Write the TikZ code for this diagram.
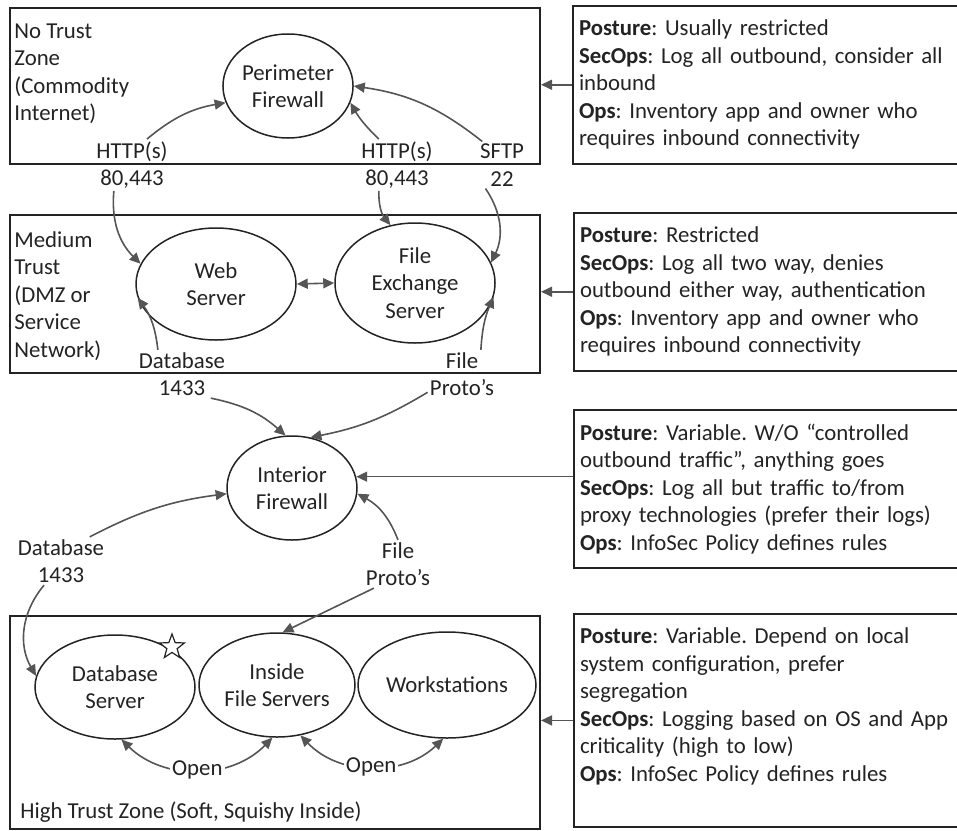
\documentclass[tikz,border=0pt]{standalone}
\usepackage{fontspec}
\setmainfont{Carlito}
\usetikzlibrary{shapes.geometric,arrows.meta}
\definecolor{inkgray}{RGB}{35,35,35}
\definecolor{arrgray}{RGB}{85,85,85}
\frenchspacing

\begin{document}
\begin{tikzpicture}[x=0.5pt,y=-0.5pt,
    every node/.style={font=\fontsize{11.4}{13.75}\selectfont, text=inkgray},
    zone/.style={draw=inkgray, line width=1pt, anchor=north west, inner sep=0pt, minimum width=265pt},
    info/.style={draw=inkgray, line width=1pt, anchor=north west, text width=190pt, align=left, inner xsep=3pt, inner ysep=7pt},
    server/.style={shape=ellipse, draw=inkgray, line width=0.75pt, align=center, inner sep=0pt},
    port/.style={align=center, inner sep=1pt},
    zonetext/.style={align=left, inner sep=0pt},
    arr/.style={-{Triangle[length=5.5pt,width=5pt]}, color=arrgray, line width=0.8pt},
    biarr/.style={{Triangle[length=5.5pt,width=5pt]}-{Triangle[length=5.5pt,width=5pt]}, color=arrgray, line width=0.8pt}]
      \useasboundingbox (0,0) rectangle (957,830);

      % trust zones
      \node[zone,minimum height=78pt] (z1) at (9,7) {};
      \node[zone,minimum height=79pt] (z2) at (9,214) {};
      \node[zone,minimum height=106.5pt] (z3) at (9,615) {};
      \node[zonetext,anchor=north west] (zl1) at (14,23) {No Trust\\Zone\\(Commodity\\Internet)};
      \node[zonetext,anchor=north west] (zl2) at (14,231) {Medium\\Trust\\(DMZ or\\Service\\Network)};
      \node[zonetext,anchor=west] (zl3) at (20,812) {High Trust Zone (Soft, Squishy Inside)};

      % servers and firewalls
      \node[server,minimum width=65pt,minimum height=52pt] (pf) at (288,86) {Perimeter\\Firewall};
      \node[server,minimum width=80pt,minimum height=56pt] (ws) at (216,284) {Web\\Server};
      \node[server,minimum width=80pt,minimum height=60pt] (fe) at (415,283) {File\\Exchange\\Server};
      \node[server,minimum width=65pt,minimum height=52pt] (ifw) at (292,488) {Interior\\Firewall};
      \node[server,minimum width=80pt,minimum height=52pt] (db) at (115,687) {Database\\Server};
      \node[server,minimum width=78pt,minimum height=52pt] (ifs) at (277,685) {Inside\\File Servers};
      \node[server,minimum width=89pt,minimum height=53pt] (wst) at (447,685) {Workstations};
      \node[star,star points=5,star point ratio=2.4,draw=inkgray,fill=white,line width=0.6pt,minimum size=13pt,inner sep=0pt] (gem) at (172,647) {};

      % protocols and ports
      \node[port] (h1) at (132,165) {HTTP(s)\\80,443};
      \node[port] (h2) at (397,165) {HTTP(s)\\80,443};
      \node[port] (h3) at (502,165) {SFTP\\22};
      \node[port] (m1) at (182,374) {Database\\1433};
      \node[port] (m2) at (462,374) {File\\Proto’s};
      \node[port] (l1) at (61,561) {Database\\1433};
      \node[port] (l2) at (398,564) {File\\Proto’s};

      % posture notes
      \node[info] (i1) at (572,5) {\textbf{Posture}: Usually restricted\\\textbf{SecOps}: Log all outbound, consider all\\inbound\\\textbf{Ops}: Inventory app and owner who\\requires inbound connectivity};
      \node[info] (i2) at (573,212) {\textbf{Posture}: Restricted\\\textbf{SecOps}: Log all two way, denies\\outbound either way, authentication\\\textbf{Ops}: Inventory app and owner who\\requires inbound connectivity};
      \node[info] (i3) at (573,409) {\textbf{Posture}: Variable. W/O “controlled\\outbound traffic”, anything goes\\\textbf{SecOps}: Log all but traffic to/from\\proxy technologies (prefer their logs)\\\textbf{Ops}: InfoSec Policy defines rules};
      \node[info] (i4) at (573,613) {\textbf{Posture}: Variable. Depend on local\\system configuration, prefer\\segregation\\\textbf{SecOps}: Logging based on OS and App\\criticality (high to low)\\\textbf{Ops}: InfoSec Policy defines rules\\[2pt]\mbox{}};

      \path [arr](i1.west) edge (z1.east |- i1.west) ;
      \path [arr](i2.west) edge (z2.east |- i2.west) ;
      \path [arr](i3.west |- ifw.10) edge (ifw.10) ;
      \path [arr](i4.west) edge (z3.east |- i4.west) ;

      \path [arr](h1.60) edge[bend left=15] (pf.195) ;
      \path [arr](h2.125) edge[bend left=8] (pf.-15) ;
      \path [arr](h3.130) edge[bend right=15] (pf.east) ;
      \path [arr](h1.235) edge[bend right=25] (ws.165) ;
      \path [arr](h2.235) edge[bend right=20] (fe.113) ;
      \path [arr](h3.235) edge[bend left=30] (fe.15) ;
      \path [biarr](ws.east) edge (fe.west) ;
      \path [arr](m1.135) edge[bend right=15] (ws.190) ;
      \path [arr](m2.52) edge[bend left=10] (fe.-10) ;

      \path [arr](m1.-40) edge[bend left=15] (ifw.97) ;
      \path [arr](m2.208) edge[bend left=10] (ifw.70) ;
      \path [arr](l1.40) edge[bend left=10] (ifw.185) ;
      \path [arr](l2.north) edge[bend right=20] (ifw.-5) ;

      \path [arr](l1.235) edge[bend right=35] (db.172) ;
      \path [arr](l2.225) edge (ifs.84) ;
      \path [biarr](db.-83) edge[bend right=45] node[port,fill=white] {Open} (ifs.-95) ;
      \path [biarr](ifs.-65) edge[bend right=45] node[port,fill=white] {Open} (wst.-94) ;

    \end{tikzpicture}
\end{document}
